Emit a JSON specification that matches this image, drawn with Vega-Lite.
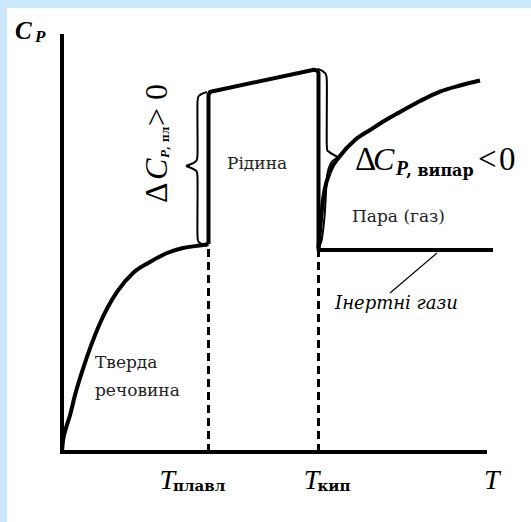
{
  "$schema": "https://vega.github.io/schema/vega-lite/v6.json",
  "width": 524,
  "height": 514,
  "autosize": {"type": "none"},
  "padding": {"left": 7, "top": 8, "right": 0, "bottom": 0},
  "background": "#cbe7fb",
  "config": {
    "view": {"fill": "white", "stroke": null},
    "font": "Liberation Serif",
    "text": {"font": "Liberation Serif", "align": "left", "baseline": "alphabetic", "color": "black"}
  },
  "datasets": {
    "axes": [
      {"i": 0, "T": 0, "C": 100},
      {"i": 1, "T": 0, "C": 0},
      {"i": 2, "T": 100, "C": 0}
    ],
    "solid": [
      {"T": 0, "C": 0},
      {"T": 0.2, "C": 2.4},
      {"T": 0.8, "C": 5.2},
      {"T": 1.88, "C": 8.8},
      {"T": 3.06, "C": 13.6},
      {"T": 4.94, "C": 19.9},
      {"T": 8.94, "C": 30.8},
      {"T": 12.94, "C": 38.28},
      {"T": 16.71, "C": 42.82},
      {"T": 20.71, "C": 45.45},
      {"T": 24.71, "C": 47.61},
      {"T": 28.47, "C": 48.8},
      {"T": 33.18, "C": 49.52},
      {"T": 34.47, "C": 49.76}
    ],
    "path": [
      {"i": 0, "T": 34.47, "C": 49.76},
      {"i": 1, "T": 34.47, "C": 85.41},
      {"i": 2, "T": 34.82, "C": 86.12},
      {"i": 3, "T": 35.53, "C": 86.32},
      {"i": 4, "T": 59.29, "C": 91.44},
      {"i": 5, "T": 60.0, "C": 91.27},
      {"i": 6, "T": 60.35, "C": 90.67},
      {"i": 7, "T": 60.35, "C": 48.33},
      {"i": 8, "T": 101.41, "C": 48.33}
    ],
    "gas": [
      {"T": 60.35, "C": 48.8},
      {"T": 60.71, "C": 53.11},
      {"T": 61.41, "C": 60.29},
      {"T": 63.06, "C": 66.99},
      {"T": 65.41, "C": 70.81},
      {"T": 68.94, "C": 74.64},
      {"T": 72.47, "C": 77.03},
      {"T": 76.0, "C": 79.31},
      {"T": 79.53, "C": 81.34},
      {"T": 84.24, "C": 83.97},
      {"T": 88.94, "C": 86.24},
      {"T": 93.65, "C": 87.68},
      {"T": 98.35, "C": 88.88}
    ],
    "transitions": [
      {"T": 34.47, "C": 0, "C2": 49},
      {"T": 60.35, "C": 0, "C2": 48}
    ],
    "braces": [
      {"part": "melt-top", "i": 0, "T": 34.12, "C": 86.12},
      {"part": "melt-top", "i": 1, "T": 32.47, "C": 85.41},
      {"part": "melt-top", "i": 2, "T": 31.88, "C": 83.73},
      {"part": "melt-top", "i": 3, "T": 31.88, "C": 71.05},
      {"part": "melt-top", "i": 4, "T": 31.29, "C": 69.38},
      {"part": "melt-top", "i": 5, "T": 29.18, "C": 68.42},
      {"part": "melt-bottom", "i": 0, "T": 29.18, "C": 68.42},
      {"part": "melt-bottom", "i": 1, "T": 31.29, "C": 67.46},
      {"part": "melt-bottom", "i": 2, "T": 31.88, "C": 65.79},
      {"part": "melt-bottom", "i": 3, "T": 31.88, "C": 51.67},
      {"part": "melt-bottom", "i": 4, "T": 32.47, "C": 50.0},
      {"part": "melt-bottom", "i": 5, "T": 34.12, "C": 49.28},
      {"part": "boil-top", "i": 0, "T": 60.24, "C": 91.63},
      {"part": "boil-top", "i": 1, "T": 61.6, "C": 90.9},
      {"part": "boil-top", "i": 2, "T": 62.3, "C": 89.0},
      {"part": "boil-top", "i": 3, "T": 62.3, "C": 73.44},
      {"part": "boil-top", "i": 4, "T": 62.9, "C": 71.77},
      {"part": "boil-top", "i": 5, "T": 64.9, "C": 70.57},
      {"part": "boil-bottom", "i": 0, "T": 64.9, "C": 70.57},
      {"part": "boil-bottom", "i": 1, "T": 63.3, "C": 69.14},
      {"part": "boil-bottom", "i": 2, "T": 62.4, "C": 66.27},
      {"part": "boil-bottom", "i": 3, "T": 61.8, "C": 56.7},
      {"part": "boil-bottom", "i": 4, "T": 61.1, "C": 50.72},
      {"part": "boil-bottom", "i": 5, "T": 60.35, "C": 48.8}
    ],
    "pointer": [
      {"i": 0, "T": 77.18, "C": 38.04},
      {"i": 1, "T": 88.24, "C": 47.61}
    ]
  },
  "encoding": {
    "x": {"field": "T", "type": "quantitative", "scale": {"domain": [-12.94, 110.35], "nice": false, "zero": false}, "axis": null},
    "y": {"field": "C", "type": "quantitative", "scale": {"domain": [-16.75, 106.22], "nice": false, "zero": false}, "axis": null}
  },
  "layer": [
    {
      "data": {"name": "axes"},
      "mark": {"type": "line", "color": "black", "strokeWidth": 4, "strokeJoin": "miter"},
      "encoding": {"order": {"field": "i"}}
    },
    {
      "data": {"name": "solid"},
      "mark": {"type": "line", "color": "black", "strokeWidth": 4, "interpolate": "monotone"},
      "encoding": {}
    },
    {
      "data": {"name": "path"},
      "mark": {"type": "line", "color": "black", "strokeWidth": 4, "strokeJoin": "round"},
      "encoding": {"order": {"field": "i"}}
    },
    {
      "data": {"name": "gas"},
      "mark": {"type": "line", "color": "black", "strokeWidth": 4, "interpolate": "monotone"},
      "encoding": {}
    },
    {
      "data": {"name": "transitions"},
      "mark": {"type": "rule", "color": "black", "strokeWidth": 3, "strokeDash": [8, 5]},
      "encoding": {"y2": {"field": "C2"}}
    },
    {
      "data": {"name": "braces"},
      "mark": {"type": "line", "color": "black", "strokeWidth": 2, "interpolate": "cardinal", "tension": 0.3},
      "encoding": {"order": {"field": "i"}, "detail": {"field": "part"}}
    },
    {
      "data": {"name": "pointer"},
      "mark": {"type": "line", "color": "black", "strokeWidth": 1.2},
      "encoding": {"order": {"field": "i"}}
    },
    {
      "data": {"values": [{"label": "C", "T": -11.06, "C": 98.8}]},
      "mark": {"type": "text", "font": "Liberation Serif", "fontSize": 25, "fontStyle": "italic", "fontWeight": "bold"},
      "encoding": {"text": {"field": "label"}}
    },
    {
      "data": {"values": [{"label": "P", "T": -6.35, "C": 98.09}]},
      "mark": {"type": "text", "font": "Liberation Serif", "fontSize": 17, "fontStyle": "italic", "fontWeight": "bold"},
      "encoding": {"text": {"field": "label"}}
    },
    {
      "data": {"values": [
        {"label": "T", "T": 22.94, "C": -8.85},
        {"label": "T", "T": 56.87, "C": -8.85},
        {"label": "T", "T": 99.29, "C": -8.85}
      ]},
      "mark": {"type": "text", "font": "Liberation Serif", "fontSize": 28, "fontStyle": "italic"},
      "encoding": {"text": {"field": "label"}}
    },
    {
      "data": {"values": [
        {"label": "плавл", "T": 26.12, "C": -9.33},
        {"label": "кип", "T": 60.12, "C": -9.33}
      ]},
      "mark": {"type": "text", "font": "DejaVu Serif", "fontSize": 15, "fontWeight": "bold"},
      "encoding": {"text": {"field": "label"}}
    },
    {
      "data": {"values": [
        {"label": "Рідина", "T": 38.82, "C": 67.7},
        {"label": "Пара (газ)", "T": 68.24, "C": 55.02},
        {"label": "Тверда", "T": 7.76, "C": 20.1},
        {"label": "речовина", "T": 7.76, "C": 13.4}
      ]},
      "mark": {"type": "text", "font": "DejaVu Serif", "fontSize": 17, "color": "#222222"},
      "encoding": {"text": {"field": "label"}}
    },
    {
      "data": {"values": [{"label": "Інертні гази", "T": 64.24, "C": 34.21}]},
      "mark": {"type": "text", "font": "DejaVu Serif", "fontSize": 18, "fontStyle": "italic"},
      "encoding": {"text": {"field": "label"}}
    },
    {
      "data": {"values": [
        {"label": "Δ", "T": 68.94, "C": 67.46},
        {"label": "<", "T": 97.88, "C": 67.46},
        {"label": "0", "T": 102.82, "C": 67.46}
      ]},
      "mark": {"type": "text", "font": "Liberation Serif", "fontSize": 33},
      "encoding": {"text": {"field": "label"}}
    },
    {
      "data": {"values": [{"label": "C", "T": 73.18, "C": 67.46}]},
      "mark": {"type": "text", "font": "Liberation Serif", "fontSize": 32, "fontStyle": "italic"},
      "encoding": {"text": {"field": "label"}}
    },
    {
      "data": {"values": [{"label": "P", "T": 78.5, "C": 66.27}]},
      "mark": {"type": "text", "font": "Liberation Serif", "fontSize": 20, "fontStyle": "italic", "fontWeight": "bold"},
      "encoding": {"text": {"field": "label"}}
    },
    {
      "data": {"values": [{"label": ", випар", "T": 81.0, "C": 66.03}]},
      "mark": {"type": "text", "font": "DejaVu Serif", "fontSize": 16, "fontWeight": "bold"},
      "encoding": {"text": {"field": "label"}}
    },
    {
      "data": {"values": [
        {"label": "Δ", "T": 24.71, "C": 59.57},
        {"label": "> 0", "T": 24.71, "C": 77.99}
      ]},
      "mark": {"type": "text", "font": "Liberation Serif", "fontSize": 32, "angle": 270},
      "encoding": {"text": {"field": "label"}}
    },
    {
      "data": {"values": [{"label": "C", "T": 24.71, "C": 65.07}]},
      "mark": {"type": "text", "font": "Liberation Serif", "fontSize": 32, "fontStyle": "italic", "angle": 270},
      "encoding": {"text": {"field": "label"}}
    },
    {
      "data": {"values": [{"label": "P", "T": 25.18, "C": 70.33}]},
      "mark": {"type": "text", "font": "Liberation Serif", "fontSize": 13, "fontStyle": "italic", "fontWeight": "bold", "angle": 270},
      "encoding": {"text": {"field": "label"}}
    },
    {
      "data": {"values": [{"label": ", пл", "T": 25.06, "C": 72.25}]},
      "mark": {"type": "text", "font": "DejaVu Serif", "fontSize": 11, "fontWeight": "bold", "angle": 270},
      "encoding": {"text": {"field": "label"}}
    }
  ]
}
